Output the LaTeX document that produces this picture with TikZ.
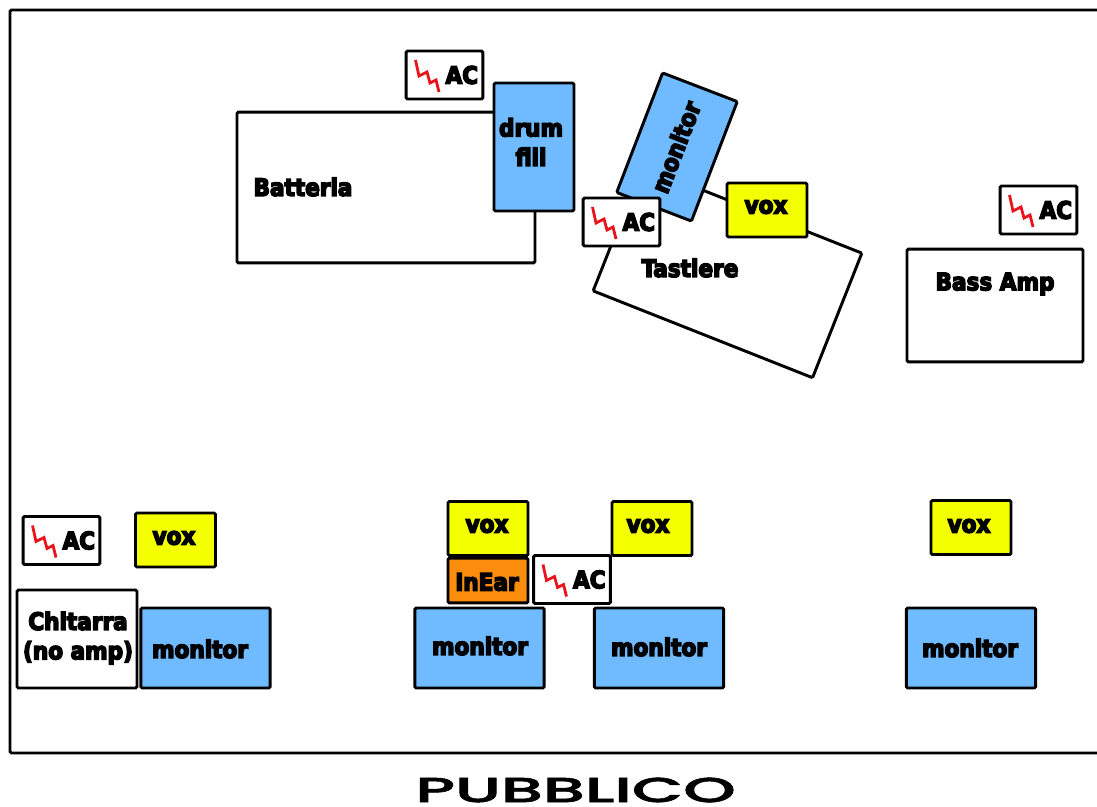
\documentclass[tikz,border=0pt]{standalone}
\usepackage{fontspec}
\setmainfont{DejaVu Sans}
\newfontfamily\heavyfont[FakeBold=6]{DejaVu Sans Condensed Bold}
\newfontfamily\widefont[FakeBold=1.5]{Poppins Medium}
\definecolor{monitorblue}{HTML}{70BBFF}
\definecolor{voxyellow}{HTML}{F4FF00}
\definecolor{earorange}{HTML}{FB8C0C}
\definecolor{boltred}{HTML}{E8141C}
\tikzset{
	px/.style={x=0.75pt, y=-0.75pt},
	stagebox/.style={draw=black, line width=2.2pt, rounded corners=1pt, inner sep=0pt, font=\heavyfont\fontsize{18}{20}\selectfont, align=center},
	labeltext/.style={inner sep=0pt, font=\heavyfont\fontsize{18}{22}\selectfont, align=center},
	monitorbox/.style={stagebox, fill=monitorblue, minimum width=97pt, minimum height=60pt},
	voxbox/.style={stagebox, fill=voxyellow, minimum width=60pt, minimum height=40.5pt},
	acbox/.style={stagebox, fill=white, minimum width=57.5pt, minimum height=36pt},
	bolt/.style={draw=boltred, line width=2.1pt, line join=miter},
}
\def\acplug(#1)#2{
	\node[acbox] (#2) at (#1) {\hspace*{26pt}AC};
	\draw[bolt] ($(#2)+(-29,-15)$) -- ++(3.5,16) -- ++(8,-4) -- ++(3,11) -- ++(6,-3) -- ++(3,12);
}
\usetikzlibrary{calc}

\begin{document}
\begin{tikzpicture}[px]
	%%%%% START %%%%%
	\useasboundingbox (0,0) rectangle (1097,807);
	
	\draw[line width=2.2pt, rounded corners=1pt] (1097,10) -- (10,10) -- (10,753) -- (1097,753);
	
	\node[stagebox, fill=white, minimum width=223.5pt, minimum height=113pt] (batteria) at (386,187.5) {};
	\node[labeltext] (batterialabel) at (303,187) {Batteria};
	\node[stagebox, fill=monitorblue, minimum width=60pt, minimum height=96pt] (drumfill) at (534,147) {};
	\node[labeltext] (drumfilllabel) at (531,142) {drum\\fill};
	\acplug(444.5,75){acdrum}
	
	\node[stagebox, fill=white, minimum width=177pt, minimum height=100.5pt, rotate=-21.6] (tastiere) at (727.5,272) {};
	\node[labeltext] (tastierelabel) at (690,268) {Tastiere};
	\node[monitorbox, minimum width=96pt, minimum height=60pt, rotate=69] (monitorkeys) at (677,147) {};
	\node[labeltext, rotate=69] (monitorkeyslabel) at (676,147) {monitor};
	\acplug(621.5,222){ackeys}
	\node[voxbox] (voxkeys) at (767,210) {};
	\node[labeltext] (voxkeyslabel) at (766,207) {vox};
	
	\node[stagebox, fill=white, minimum width=132pt, minimum height=84.5pt] (bass) at (995,305.5) {};
	\node[labeltext] (basslabel) at (995,284) {Bass Amp};
	\acplug(1038.5,210){acbass}
	
	\acplug(61.5,540.5){acguitar}
	\node[voxbox] (voxguitar) at (175.5,540) {};
	\node[labeltext] (voxguitarlabel) at (174,538) {vox};
	\node[stagebox, fill=white, minimum width=90pt, minimum height=73.5pt] (chitarra) at (77,639) {};
	\node[labeltext] (chitarralabel) at (78,638) {Chitarra\\(no amp)};
	\node[monitorbox] (monitorguitar) at (205.5,648) {};
	\node[labeltext] (monitorguitarlabel) at (200,649) {monitor};
	
	\node[voxbox] (voxleft) at (488,528.5) {};
	\node[labeltext] (voxleftlabel) at (487,526) {vox};
	\node[stagebox, fill=earorange, minimum width=60pt, minimum height=33.5pt] (inear) at (488,580.5) {};
	\node[labeltext] (inearlabel) at (487,582) {InEar};
	\acplug(572,579.5){acleft}
	\node[voxbox] (voxright) at (652,528.5) {};
	\node[labeltext] (voxrightlabel) at (648,526) {vox};
	\node[monitorbox] (monitorleft) at (479.5,648) {};
	\node[labeltext] (monitorleftlabel) at (480,646) {monitor};
	\node[monitorbox] (monitorright) at (659,648) {};
	\node[labeltext] (monitorrightlabel) at (659,647) {monitor};
	
	\node[voxbox] (voxbass) at (971,527.5) {};
	\node[labeltext] (voxbasslabel) at (969,526) {vox};
	\node[monitorbox] (monitorbass) at (971,648) {};
	\node[labeltext] (monitorbasslabel) at (970,648) {monitor};
	
	\node[inner sep=0pt, font=\widefont\fontsize{26}{26}\selectfont, xscale=1.92] (pubblico) at (575.5,790) {PUBBLICO};
	%%%%% END %%%%%
\end{tikzpicture}
\end{document}
